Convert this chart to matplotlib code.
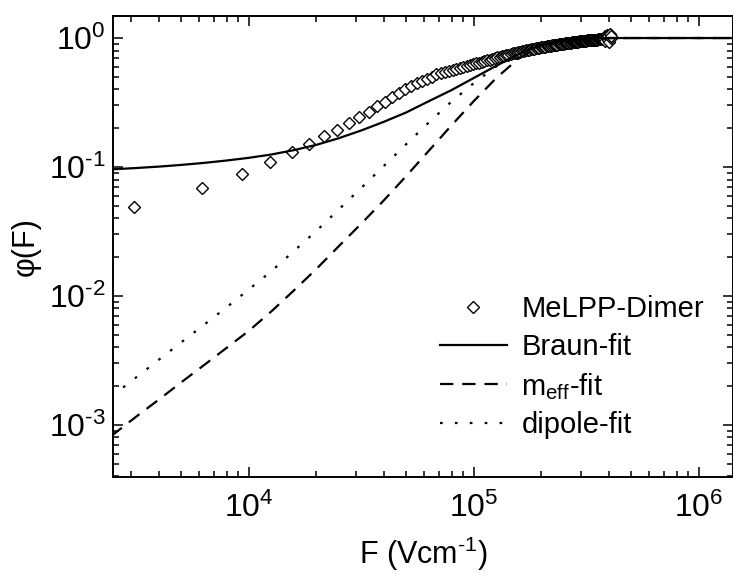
import numpy as np
import matplotlib
matplotlib.use("Agg")
import matplotlib.pyplot as plt
from matplotlib.ticker import LogLocator, NullFormatter, FuncFormatter

plt.rcParams['font.family'] = ['Liberation Sans', 'DejaVu Sans']
plt.rcParams['mathtext.fontset'] = 'custom'
plt.rcParams['mathtext.rm'] = 'Liberation Sans'
plt.rcParams['mathtext.it'] = 'Liberation Sans:italic'
plt.rcParams['mathtext.default'] = 'regular'

# measured data, F in kV/cm
F_data_kV = [3.1, 6.2, 9.3, 12.4, 15.5, 18.6, 21.7, 24.8, 27.9, 31.0,
             34.1, 37.2, 40.3, 43.4, 46.5, 49.6, 52.7, 55.8, 58.9, 62.0,
             65.1, 68.2, 71.3, 74.4, 77.5, 80.6, 83.7, 86.8, 89.9, 93.0,
             96.1, 99.2, 102.3, 105.4, 108.5, 111.6, 114.7, 117.8, 120.9, 124.0,
             127.1, 130.2, 133.3, 136.4, 139.5, 142.6, 145.7, 148.8, 151.9, 155.0,
             158.1, 161.2, 164.3, 167.4, 170.5, 173.6, 176.7, 179.8, 182.9, 186.0,
             189.1, 192.2, 195.3, 198.4, 201.5, 204.6, 207.7, 210.8, 213.9, 217.0,
             220.1, 223.2, 226.3, 229.4, 232.5, 235.6, 238.7, 241.8, 244.9, 248.0,
             251.1, 254.2, 257.3, 260.4, 263.5, 266.6, 269.7, 272.8, 275.9, 279.0,
             282.1, 285.2, 288.3, 291.4, 294.5, 297.6, 300.7, 303.8, 306.9, 310.0,
             313.1, 316.2, 319.3, 322.4, 325.5, 328.6, 331.7, 334.8, 337.9, 341.0,
             344.1, 347.2, 350.3, 353.4, 356.5, 359.6, 362.7, 365.8, 368.9, 372.0,
             375.1, 378.2, 381.3, 384.4, 387.5, 390.6, 393.7, 396.8, 399.9, 403.0,
             406.1, 409.2]
phi_data = [0.049, 0.069, 0.088, 0.109, 0.131, 0.152, 0.174, 0.195, 0.219, 0.243,
            0.266, 0.295, 0.322, 0.350, 0.376, 0.400, 0.422, 0.445, 0.463, 0.485,
            0.500, 0.522, 0.533, 0.545, 0.556, 0.567, 0.577, 0.587, 0.597, 0.607,
            0.617, 0.627, 0.636, 0.645, 0.654, 0.663, 0.672, 0.681, 0.690, 0.699,
            0.707, 0.715, 0.723, 0.731, 0.738, 0.745, 0.752, 0.759, 0.766, 0.772,
            0.778, 0.784, 0.790, 0.796, 0.802, 0.807, 0.812, 0.817, 0.822, 0.827,
            0.832, 0.837, 0.842, 0.846, 0.850, 0.854, 0.858, 0.862, 0.866, 0.870,
            0.874, 0.877, 0.880, 0.883, 0.886, 0.889, 0.892, 0.895, 0.898, 0.901,
            0.904, 0.908, 0.911, 0.914, 0.917, 0.920, 0.922, 0.925, 0.927, 0.930,
            0.932, 0.934, 0.937, 0.939, 0.941, 0.943, 0.945, 0.947, 0.949, 0.951,
            0.953, 0.955, 0.957, 0.958, 0.960, 0.962, 0.963, 0.965, 0.966, 0.968,
            0.969, 0.971, 0.972, 0.973, 0.975, 0.976, 0.977, 0.979, 0.980, 0.981,
            0.983, 0.985, 1.03, 0.95, 1.01, 1.06, 0.97, 1.04, 0.93, 1.08,
            1.00, 1.03]

# field values at which the fit curves are drawn (V/cm)
F_fit = [2.45e3, 3.16e3, 3.98e3, 5.01e3, 6.31e3, 7.94e3, 1.0e4, 1.26e4, 1.58e4, 2.0e4,
         2.51e4, 3.16e4, 3.98e4, 5.01e4, 6.31e4, 7.94e4, 1.0e5, 1.26e5, 1.58e5, 1.78e5,
         2.0e5, 2.24e5, 2.51e5, 3.16e5, 3.98e5, 1.5e6]
phi_braun = [0.0959, 0.0982, 0.1007, 0.1038, 0.1076, 0.1122, 0.1178, 0.1250, 0.1349, 0.1486,
             0.1671, 0.1919, 0.2239, 0.2649, 0.3236, 0.3936, 0.4898, 0.6095, 0.7499, 0.818,
             0.8810, 0.925, 0.9594, 0.9908, 1.0, 1.0]
phi_meff = [0.000822, 0.00116, 0.00157, 0.00214, 0.00290, 0.00394, 0.00536, 0.00759, 0.01096, 0.01622,
            0.02427, 0.0363, 0.0550, 0.0851, 0.1334, 0.209, 0.324, 0.490, 0.692, 0.785,
            0.871, 0.927, 0.959, 0.991, 1.0, 1.0]
phi_dip = [0.00166, 0.00234, 0.00320, 0.00437, 0.00596, 0.00813, 0.01122, 0.01556, 0.02213, 0.0320,
           0.0468, 0.0687, 0.1016, 0.1503, 0.2213, 0.320, 0.447, 0.603, 0.759, 0.826,
           0.887, 0.929, 0.962, 0.991, 1.0, 1.0]

fig = plt.figure(figsize=(7.33, 5.74), dpi=100)
ax = fig.add_axes([0.154, 0.169, 0.846, 0.803])

F_data = np.array(F_data_kV) * 1e3
ax.plot(F_data, phi_data, linestyle='none', marker='D', ms=6.3, mfc='white',
        mec='black', mew=1.0, label='MeLPP-Dimer')
ax.plot(F_fit, phi_braun, color='black', lw=1.6, label='Braun-fit')
ax.plot(F_fit, phi_meff, color='black', lw=1.6, linestyle=(0, (6, 4)),
        label=r'm$_{eff}$-fit')
ax.plot(F_fit, phi_dip, color='black', lw=1.6, linestyle=(0, (1.2, 5.5)),
        label='dipole-fit')

ax.set_xscale('log')
ax.set_yscale('log')
ax.set_xlim(2.49e3, 1.42e6)
ax.set_ylim(3.95e-4, 1.48)


def pow_label(v, pos):
    e = int(round(np.log10(v)))
    if e < 0:
        return r'$10^{\text{-}%d}$' % (-e)
    return r'$10^{%d}$' % e


for axis in (ax.xaxis, ax.yaxis):
    axis.set_major_locator(LogLocator(base=10, numticks=20))
    axis.set_minor_locator(LogLocator(base=10, subs=np.arange(2, 10), numticks=20))
    axis.set_minor_formatter(NullFormatter())
    axis.set_major_formatter(FuncFormatter(pow_label))

ax.tick_params(which='both', direction='in', top=True, right=True, width=1.1)
ax.tick_params(which='major', length=7.5, labelsize=23)
ax.tick_params(axis='x', which='major', pad=11)
ax.tick_params(axis='y', which='major', pad=5)
ax.tick_params(which='minor', length=4.2)
for s in ax.spines.values():
    s.set_linewidth(1.4)

ax.set_xlabel(r'F (Vcm$^{\text{-}1}$)', fontsize=22, labelpad=8)
ax.set_ylabel('φ(F)', fontsize=22, labelpad=6)

ax.legend(loc='center left', bbox_to_anchor=(0.527, 0.238), frameon=False,
          fontsize=21, handlelength=2.3, handletextpad=0.5, labelspacing=0.33,
          borderpad=0, borderaxespad=0, numpoints=1)

fig.savefig('out.png', dpi=100)
